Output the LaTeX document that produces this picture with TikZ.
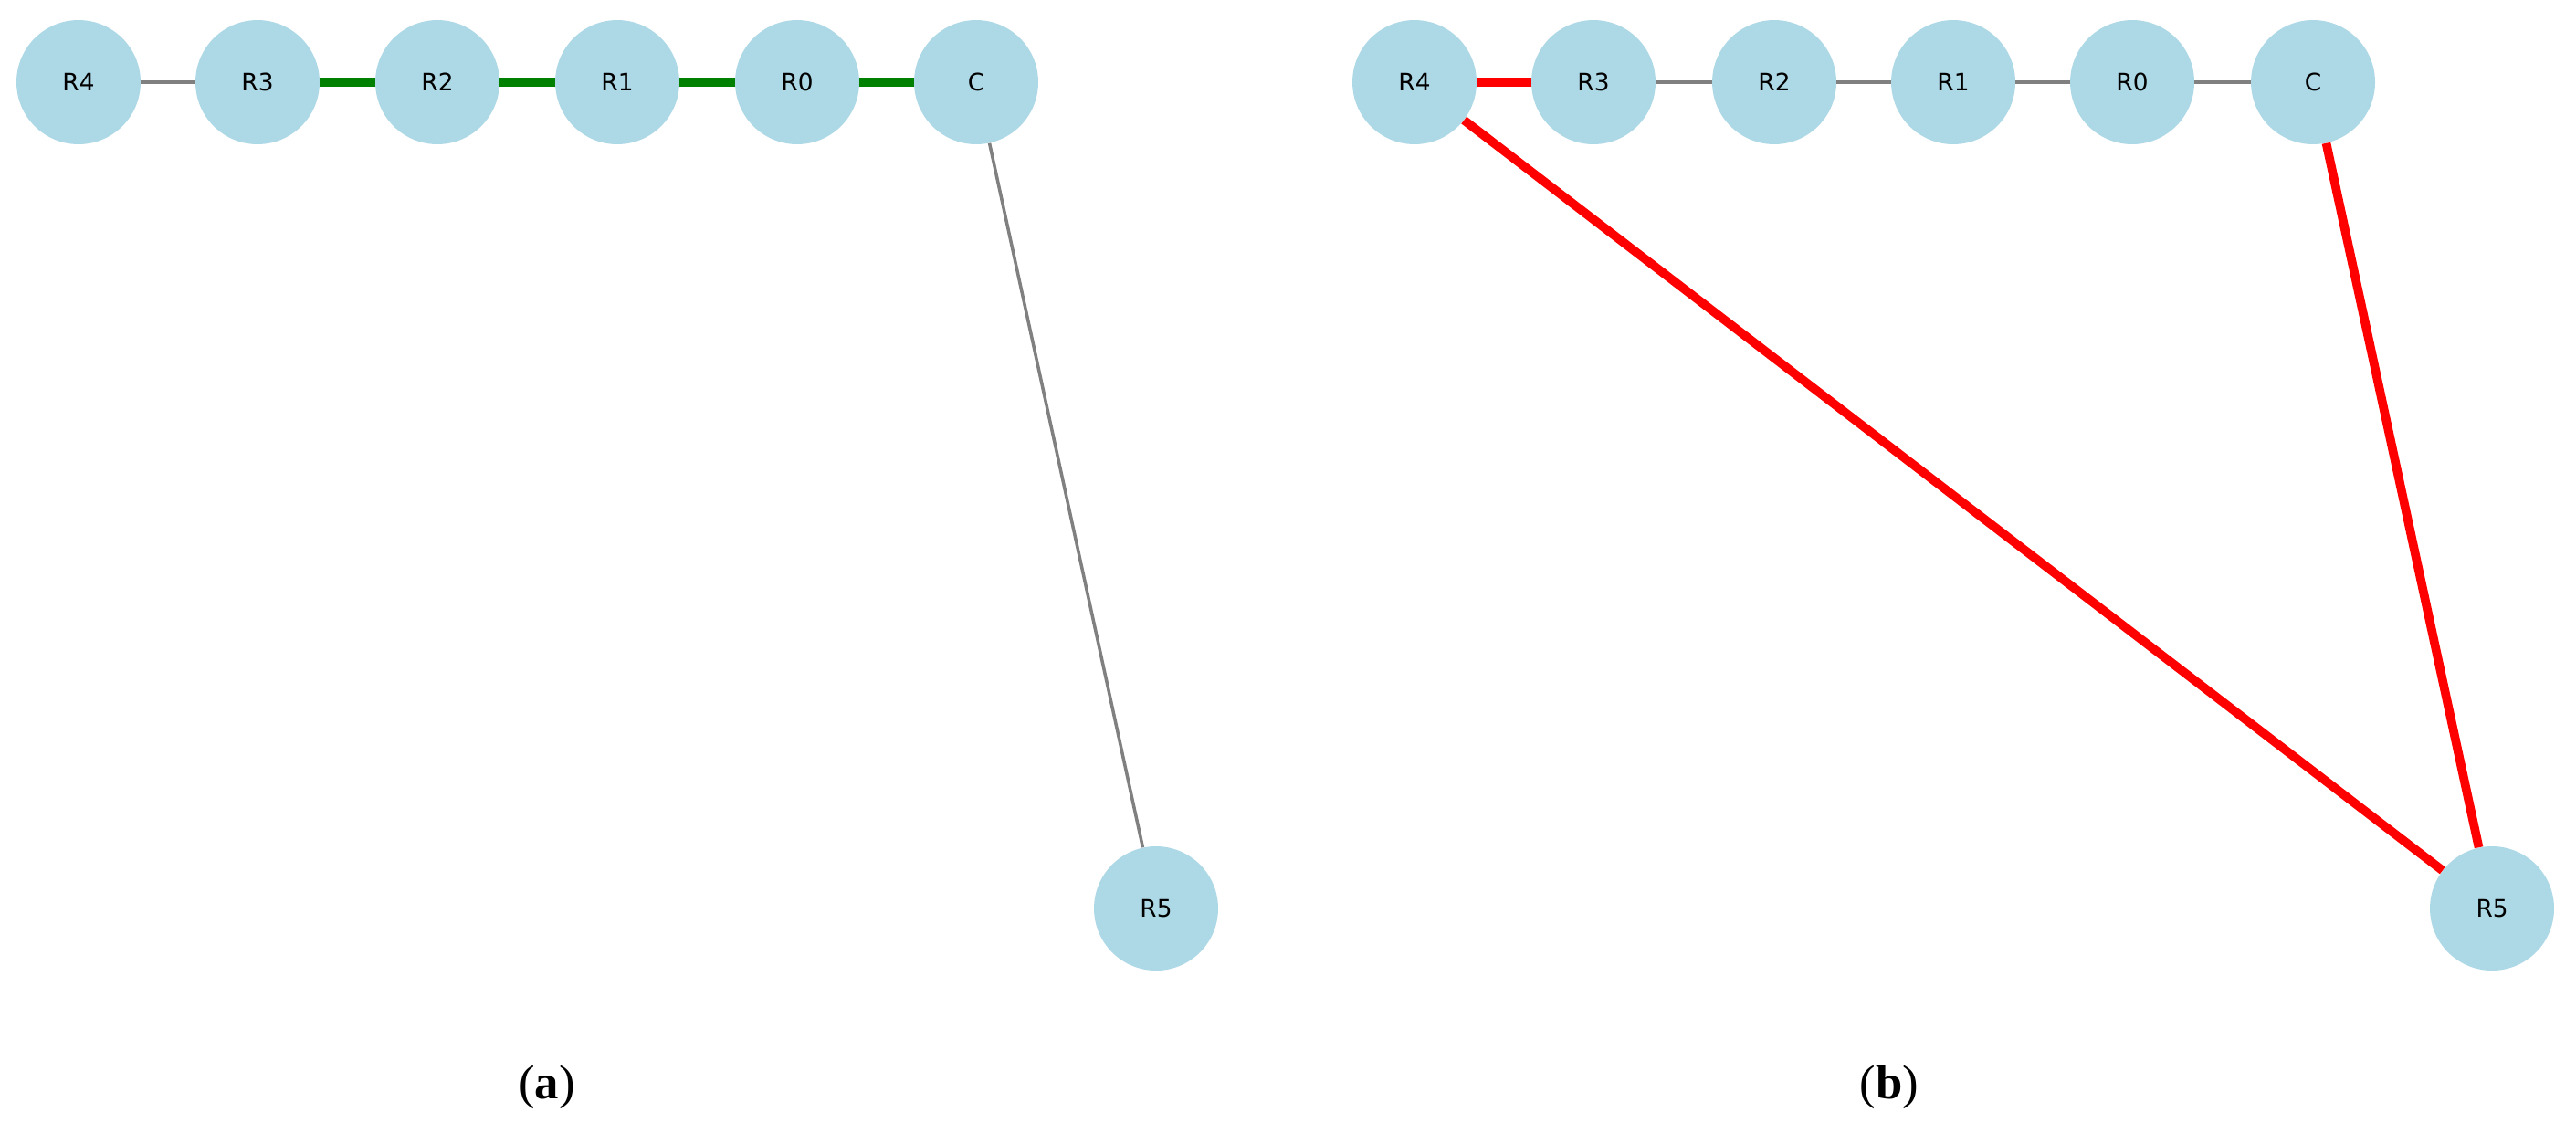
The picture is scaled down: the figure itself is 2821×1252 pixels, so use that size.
\documentclass[tikz,border=0pt]{standalone}
\usepackage{fontspec}
\setmainfont{DejaVu Sans}
\newfontfamily\capfont{Liberation Serif}
\begin{document}
\begin{tikzpicture}[x=0.02cm,y=-0.02cm,
  nd/.style={circle,fill={rgb,255:red,173;green,216;blue,230},minimum size=2.72cm,inner sep=0pt,font=\fontsize{15}{18}\selectfont},
  grayedge/.style={draw={rgb,255:red,128;green,128;blue,128},line width=2pt},
  greenedge/.style={draw={rgb,255:red,0;green,128;blue,0},line width=5.5pt},
  rededge/.style={draw=red,line width=5.5pt},
  captxt/.style={font=\capfont\fontsize{30}{36}\selectfont}]
\useasboundingbox (0,0) rectangle (2821,1252);
\foreach \n/\x in {R4/86,R3/282,R2/479,R1/676,R0/873,C/1069} \node[nd] (a\n) at (\x,90) {\n};
\node[nd] (aR5) at (1266,995) {R5};
\foreach \n/\x in {R4/1549,R3/1745,R2/1943,R1/2139,R0/2335,C/2533} \node[nd] (b\n) at (\x,90) {\n};
\node[nd] (bR5) at (2729,995) {R5};
\draw[grayedge] (aR4)--(aR3);
\draw[greenedge] (aR3)--(aR2); \draw[greenedge] (aR2)--(aR1); \draw[greenedge] (aR1)--(aR0); \draw[greenedge] (aR0)--(aC);
\draw[grayedge] (aC)--(aR5);
\draw[rededge] (bR4)--(bR3);
\draw[grayedge] (bR3)--(bR2); \draw[grayedge] (bR2)--(bR1); \draw[grayedge] (bR1)--(bR0); \draw[grayedge] (bR0)--(bC);
\draw[rededge] (bR4)--(bR5);
\draw[rededge] (bC)--(bR5);
\node[captxt] (la) at (599,1191) {(\textbf{a})};
\node[captxt] (lb) at (2069,1191) {(\textbf{b})};
\end{tikzpicture}
\end{document}
